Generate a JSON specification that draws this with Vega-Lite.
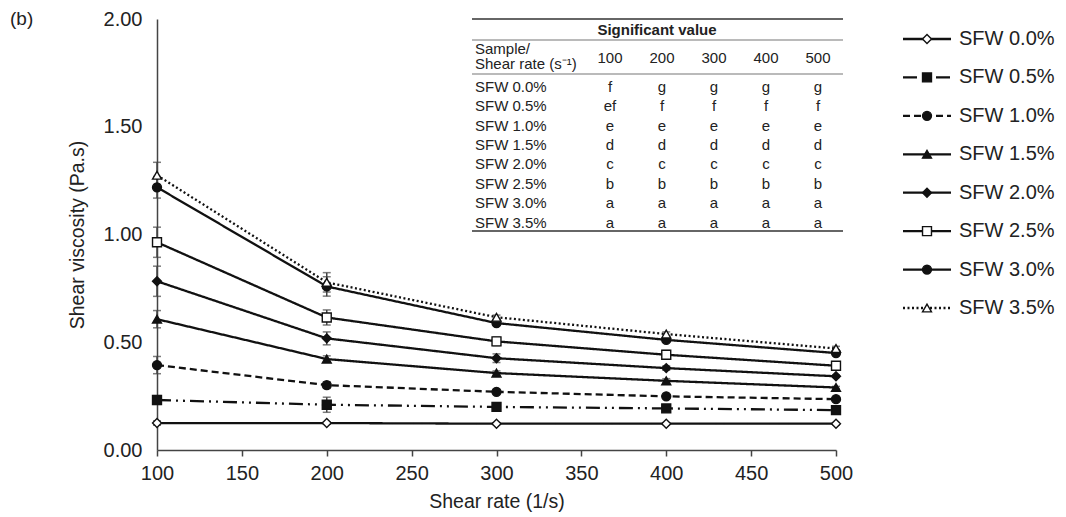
{
  "$schema": "https://vega.github.io/schema/vega-lite/v6.json",
  "width": 679,
  "height": 431,
  "autosize": "none",
  "padding": {"left": 157, "top": 19, "right": 230, "bottom": 67},
  "background": "white",
  "config": {
    "view": {"stroke": null},
    "font": "Liberation Sans",
    "axis": {"grid": false, "labelFont": "Liberation Sans", "titleFont": "Liberation Sans", "labelFontSize": 20, "titleFontSize": 19.5, "titleFontWeight": "normal", "labelColor": "#222", "titleColor": "#222", "domainColor": "#444", "domainWidth": 1.5, "tickColor": "#444", "tickWidth": 1.5, "labelOverlap": false}
  },
  "title": {"text": "(b)", "anchor": "start", "frame": "group", "orient": "top", "dx": -147, "offset": -20, "fontSize": 19, "fontWeight": "normal", "font": "Liberation Sans", "color": "#222"},
  "datasets": {
    "main": [
      {"sample": "SFW 0.0%", "rate": 100, "visc": 0.125, "err": 0.01},
      {"sample": "SFW 0.0%", "rate": 200, "visc": 0.125, "err": 0.005},
      {"sample": "SFW 0.0%", "rate": 300, "visc": 0.122, "err": 0.005},
      {"sample": "SFW 0.0%", "rate": 400, "visc": 0.122, "err": 0.005},
      {"sample": "SFW 0.0%", "rate": 500, "visc": 0.122, "err": 0.005},
      {"sample": "SFW 0.5%", "rate": 100, "visc": 0.232, "err": 0.02},
      {"sample": "SFW 0.5%", "rate": 200, "visc": 0.21, "err": 0.035},
      {"sample": "SFW 0.5%", "rate": 300, "visc": 0.2, "err": 0.015},
      {"sample": "SFW 0.5%", "rate": 400, "visc": 0.193, "err": 0.01},
      {"sample": "SFW 0.5%", "rate": 500, "visc": 0.185, "err": 0.01},
      {"sample": "SFW 1.0%", "rate": 100, "visc": 0.394, "err": 0.04},
      {"sample": "SFW 1.0%", "rate": 200, "visc": 0.301, "err": 0.015},
      {"sample": "SFW 1.0%", "rate": 300, "visc": 0.27, "err": 0.01},
      {"sample": "SFW 1.0%", "rate": 400, "visc": 0.249, "err": 0.005},
      {"sample": "SFW 1.0%", "rate": 500, "visc": 0.236, "err": 0.005},
      {"sample": "SFW 1.5%", "rate": 100, "visc": 0.607, "err": 0.04},
      {"sample": "SFW 1.5%", "rate": 200, "visc": 0.422, "err": 0.015},
      {"sample": "SFW 1.5%", "rate": 300, "visc": 0.357, "err": 0.01},
      {"sample": "SFW 1.5%", "rate": 400, "visc": 0.321, "err": 0.01},
      {"sample": "SFW 1.5%", "rate": 500, "visc": 0.29, "err": 0.005},
      {"sample": "SFW 2.0%", "rate": 100, "visc": 0.783, "err": 0.07},
      {"sample": "SFW 2.0%", "rate": 200, "visc": 0.518, "err": 0.03},
      {"sample": "SFW 2.0%", "rate": 300, "visc": 0.426, "err": 0.02},
      {"sample": "SFW 2.0%", "rate": 400, "visc": 0.38, "err": 0.01},
      {"sample": "SFW 2.0%", "rate": 500, "visc": 0.342, "err": 0.005},
      {"sample": "SFW 2.5%", "rate": 100, "visc": 0.964, "err": 0.07},
      {"sample": "SFW 2.5%", "rate": 200, "visc": 0.615, "err": 0.035},
      {"sample": "SFW 2.5%", "rate": 300, "visc": 0.504, "err": 0.02},
      {"sample": "SFW 2.5%", "rate": 400, "visc": 0.442, "err": 0.02},
      {"sample": "SFW 2.5%", "rate": 500, "visc": 0.391, "err": 0.01},
      {"sample": "SFW 3.0%", "rate": 100, "visc": 1.219, "err": 0.05},
      {"sample": "SFW 3.0%", "rate": 200, "visc": 0.759, "err": 0.045},
      {"sample": "SFW 3.0%", "rate": 300, "visc": 0.589, "err": 0.01},
      {"sample": "SFW 3.0%", "rate": 400, "visc": 0.511, "err": 0.01},
      {"sample": "SFW 3.0%", "rate": 500, "visc": 0.45, "err": 0.01},
      {"sample": "SFW 3.5%", "rate": 100, "visc": 1.275, "err": 0.06},
      {"sample": "SFW 3.5%", "rate": 200, "visc": 0.778, "err": 0.045},
      {"sample": "SFW 3.5%", "rate": 300, "visc": 0.616, "err": 0.01},
      {"sample": "SFW 3.5%", "rate": 400, "visc": 0.538, "err": 0.01},
      {"sample": "SFW 3.5%", "rate": 500, "visc": 0.471, "err": 0.01}
    ],
    "table": [
      {"sample": "SFW 0.0%", "rate": "100", "letter": "f"},
      {"sample": "SFW 0.0%", "rate": "200", "letter": "g"},
      {"sample": "SFW 0.0%", "rate": "300", "letter": "g"},
      {"sample": "SFW 0.0%", "rate": "400", "letter": "g"},
      {"sample": "SFW 0.0%", "rate": "500", "letter": "g"},
      {"sample": "SFW 0.5%", "rate": "100", "letter": "ef"},
      {"sample": "SFW 0.5%", "rate": "200", "letter": "f"},
      {"sample": "SFW 0.5%", "rate": "300", "letter": "f"},
      {"sample": "SFW 0.5%", "rate": "400", "letter": "f"},
      {"sample": "SFW 0.5%", "rate": "500", "letter": "f"},
      {"sample": "SFW 1.0%", "rate": "100", "letter": "e"},
      {"sample": "SFW 1.0%", "rate": "200", "letter": "e"},
      {"sample": "SFW 1.0%", "rate": "300", "letter": "e"},
      {"sample": "SFW 1.0%", "rate": "400", "letter": "e"},
      {"sample": "SFW 1.0%", "rate": "500", "letter": "e"},
      {"sample": "SFW 1.5%", "rate": "100", "letter": "d"},
      {"sample": "SFW 1.5%", "rate": "200", "letter": "d"},
      {"sample": "SFW 1.5%", "rate": "300", "letter": "d"},
      {"sample": "SFW 1.5%", "rate": "400", "letter": "d"},
      {"sample": "SFW 1.5%", "rate": "500", "letter": "d"},
      {"sample": "SFW 2.0%", "rate": "100", "letter": "c"},
      {"sample": "SFW 2.0%", "rate": "200", "letter": "c"},
      {"sample": "SFW 2.0%", "rate": "300", "letter": "c"},
      {"sample": "SFW 2.0%", "rate": "400", "letter": "c"},
      {"sample": "SFW 2.0%", "rate": "500", "letter": "c"},
      {"sample": "SFW 2.5%", "rate": "100", "letter": "b"},
      {"sample": "SFW 2.5%", "rate": "200", "letter": "b"},
      {"sample": "SFW 2.5%", "rate": "300", "letter": "b"},
      {"sample": "SFW 2.5%", "rate": "400", "letter": "b"},
      {"sample": "SFW 2.5%", "rate": "500", "letter": "b"},
      {"sample": "SFW 3.0%", "rate": "100", "letter": "a"},
      {"sample": "SFW 3.0%", "rate": "200", "letter": "a"},
      {"sample": "SFW 3.0%", "rate": "300", "letter": "a"},
      {"sample": "SFW 3.0%", "rate": "400", "letter": "a"},
      {"sample": "SFW 3.0%", "rate": "500", "letter": "a"},
      {"sample": "SFW 3.5%", "rate": "100", "letter": "a"},
      {"sample": "SFW 3.5%", "rate": "200", "letter": "a"},
      {"sample": "SFW 3.5%", "rate": "300", "letter": "a"},
      {"sample": "SFW 3.5%", "rate": "400", "letter": "a"},
      {"sample": "SFW 3.5%", "rate": "500", "letter": "a"}
    ],
    "samples": [
      {"sample": "SFW 0.0%"}, {"sample": "SFW 0.5%"}, {"sample": "SFW 1.0%"}, {"sample": "SFW 1.5%"},
      {"sample": "SFW 2.0%"}, {"sample": "SFW 2.5%"}, {"sample": "SFW 3.0%"}, {"sample": "SFW 3.5%"}
    ],
    "rates": [{"rate": "100"}, {"rate": "200"}, {"rate": "300"}, {"rate": "400"}, {"rate": "500"}],
    "one": [{"k": 1}]
  },
  "layer": [
    {
      "data": {"name": "main"},
      "encoding": {
        "x": {"field": "rate", "type": "quantitative", "scale": {"domain": [100, 500], "nice": false, "zero": false},
          "axis": {"title": "Shear rate (1/s)", "values": [100, 150, 200, 250, 300, 350, 400, 450, 500], "tickSize": 6, "labelPadding": 7, "titlePadding": 9, "labelFlush": false}},
        "y": {"field": "visc", "type": "quantitative", "scale": {"domain": [0, 2], "nice": false, "zero": true},
          "axis": {"title": "Shear viscosity (Pa.s)", "values": [0, 0.5, 1, 1.5, 2], "format": ".2f", "ticks": false, "labelPadding": 15, "titlePadding": 16, "labelFlush": false}}
      },
      "layer": [
        {"mark": {"type": "errorbar", "ticks": {"size": 8}, "color": "#444", "thickness": 1.5},
         "encoding": {"yError": {"field": "err"}, "detail": {"field": "sample", "type": "nominal"}}},
        {"mark": {"type": "line", "strokeWidth": 2.3, "color": "#111"},
         "encoding": {"strokeDash": {"field": "sample", "type": "nominal",
           "scale": {"domain": ["SFW 0.0%", "SFW 0.5%", "SFW 1.0%", "SFW 1.5%", "SFW 2.0%", "SFW 2.5%", "SFW 3.0%", "SFW 3.5%"],
             "range": [[1, 0], [14, 5, 2, 5, 2, 5], [7, 4], [1, 0], [1, 0], [1, 0], [1, 0], [2, 2.5]]}, "legend": null}}},
        {"mark": {"type": "point", "filled": true, "size": 80, "stroke": "#111", "strokeWidth": 1.4, "opacity": 1},
         "encoding": {
           "shape": {"field": "sample", "type": "nominal", "scale": {"domain": ["SFW 0.0%", "SFW 0.5%", "SFW 1.0%", "SFW 1.5%", "SFW 2.0%", "SFW 2.5%", "SFW 3.0%", "SFW 3.5%"],
             "range": ["diamond", "square", "circle", "triangle-up", "diamond", "square", "circle", "triangle-up"]}, "legend": null},
           "fill": {"field": "sample", "type": "nominal", "scale": {"domain": ["SFW 0.0%", "SFW 0.5%", "SFW 1.0%", "SFW 1.5%", "SFW 2.0%", "SFW 2.5%", "SFW 3.0%", "SFW 3.5%"],
             "range": ["white", "#111", "#111", "#111", "#111", "white", "#111", "white"]}, "legend": null}
         }}
      ]
    },
    {
      "encoding": {
        "x": {"field": "rate", "type": "ordinal", "scale": {"type": "point", "domain": ["100", "200", "300", "400", "500"], "range": [453, 661], "padding": 0}, "axis": null},
        "y": {"field": "sample", "type": "nominal", "scale": {"type": "point", "domain": ["SFW 0.0%", "SFW 0.5%", "SFW 1.0%", "SFW 1.5%", "SFW 2.0%", "SFW 2.5%", "SFW 3.0%", "SFW 3.5%"], "range": [68, 203.5], "padding": 0}, "axis": null}
      },
      "layer": [
        {"data": {"name": "one"}, "mark": {"type": "rule", "color": "#666", "strokeWidth": 2, "xOffset": -138, "x2Offset": 25, "yOffset": -68},
         "encoding": {"x": {"datum": "100"}, "x2": {"datum": "500"}, "y": {"datum": "SFW 0.0%"}}},
        {"data": {"name": "one"}, "mark": {"type": "rule", "color": "#777", "strokeWidth": 1.2, "xOffset": -138, "x2Offset": 25, "yOffset": -47},
         "encoding": {"x": {"datum": "100"}, "x2": {"datum": "500"}, "y": {"datum": "SFW 0.0%"}}},
        {"data": {"name": "one"}, "mark": {"type": "rule", "color": "#777", "strokeWidth": 1.2, "xOffset": -138, "x2Offset": 25, "yOffset": -13},
         "encoding": {"x": {"datum": "100"}, "x2": {"datum": "500"}, "y": {"datum": "SFW 0.0%"}}},
        {"data": {"name": "one"}, "mark": {"type": "rule", "color": "#666", "strokeWidth": 2, "xOffset": -138, "x2Offset": 25, "yOffset": 8.5},
         "encoding": {"x": {"datum": "100"}, "x2": {"datum": "500"}, "y": {"datum": "SFW 3.5%"}}},
        {"data": {"name": "one"}, "mark": {"type": "text", "text": "Significant value", "fontSize": 15, "fontWeight": "bold", "color": "#222", "baseline": "middle", "align": "center", "dx": -57, "dy": -57},
         "encoding": {"x": {"datum": "300"}, "y": {"datum": "SFW 0.0%"}}},
        {"data": {"name": "one"}, "mark": {"type": "text", "text": "Sample/", "fontSize": 15, "color": "#222", "baseline": "middle", "align": "left", "dx": -135, "dy": -38},
         "encoding": {"x": {"datum": "100"}, "y": {"datum": "SFW 0.0%"}}},
        {"data": {"name": "one"}, "mark": {"type": "text", "text": "Shear rate (s⁻¹)", "fontSize": 15, "color": "#222", "baseline": "middle", "align": "left", "dx": -135, "dy": -23},
         "encoding": {"x": {"datum": "100"}, "y": {"datum": "SFW 0.0%"}}},
        {"data": {"name": "rates"}, "mark": {"type": "text", "fontSize": 15, "color": "#222", "baseline": "middle", "align": "center", "dy": -29},
         "encoding": {"y": {"datum": "SFW 0.0%"}, "text": {"field": "rate"}}},
        {"data": {"name": "samples"}, "mark": {"type": "text", "fontSize": 15, "color": "#222", "baseline": "middle", "align": "left", "dx": -135},
         "encoding": {"x": {"datum": "100"}, "text": {"field": "sample"}}},
        {"data": {"name": "table"}, "mark": {"type": "text", "fontSize": 15, "color": "#222", "baseline": "middle", "align": "center"},
         "encoding": {"text": {"field": "letter"}}}
      ]
    },
    {
      "data": {"name": "samples"},
      "encoding": {
        "y": {"field": "sample", "type": "nominal", "scale": {"type": "point", "domain": ["SFW 0.0%", "SFW 0.5%", "SFW 1.0%", "SFW 1.5%", "SFW 2.0%", "SFW 2.5%", "SFW 3.0%", "SFW 3.5%"], "range": [20, 289], "padding": 0}, "axis": null}
      },
      "layer": [
        {"mark": {"type": "rule", "strokeWidth": 2.3, "color": "#111"},
         "encoding": {"x": {"datum": 0, "type": "quantitative", "scale": {"domain": [0, 1], "range": [746, 794]}, "axis": null}, "x2": {"datum": 1},
           "strokeDash": {"field": "sample", "type": "nominal", "scale": {"domain": ["SFW 0.0%", "SFW 0.5%", "SFW 1.0%", "SFW 1.5%", "SFW 2.0%", "SFW 2.5%", "SFW 3.0%", "SFW 3.5%"],
             "range": [[1, 0], [14, 5, 2, 5, 2, 5], [7, 4], [1, 0], [1, 0], [1, 0], [1, 0], [2, 2.5]]}, "legend": null}}},
        {"mark": {"type": "point", "filled": true, "size": 80, "stroke": "#111", "strokeWidth": 1.4, "opacity": 1},
         "encoding": {"x": {"datum": 0.5, "type": "quantitative"},
           "shape": {"field": "sample", "type": "nominal", "scale": {"domain": ["SFW 0.0%", "SFW 0.5%", "SFW 1.0%", "SFW 1.5%", "SFW 2.0%", "SFW 2.5%", "SFW 3.0%", "SFW 3.5%"],
             "range": ["diamond", "square", "circle", "triangle-up", "diamond", "square", "circle", "triangle-up"]}, "legend": null},
           "fill": {"field": "sample", "type": "nominal", "scale": {"domain": ["SFW 0.0%", "SFW 0.5%", "SFW 1.0%", "SFW 1.5%", "SFW 2.0%", "SFW 2.5%", "SFW 3.0%", "SFW 3.5%"],
             "range": ["white", "#111", "#111", "#111", "#111", "white", "#111", "white"]}, "legend": null}}},
        {"mark": {"type": "text", "fontSize": 20, "color": "#222", "baseline": "middle", "align": "left", "dx": 8},
         "encoding": {"x": {"datum": 1, "type": "quantitative"}, "text": {"field": "sample"}}}
      ]
    }
  ],
  "resolve": {"scale": {"x": "independent", "y": "independent"}}
}
